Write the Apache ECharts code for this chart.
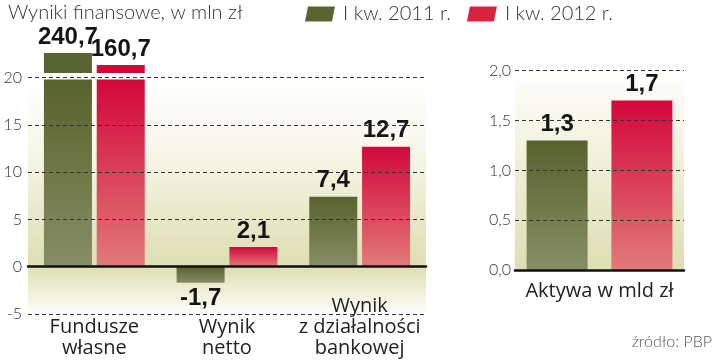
<!DOCTYPE html>
<html>
<head>
<meta charset="utf-8">
<script src="https://cdn.jsdelivr.net/npm/echarts@6/dist/echarts.min.js"></script>
<style>
html,body{margin:0;padding:0;background:#fff;}
#chart{width:720px;height:360px;}
</style>
</head>
<body>
<div id="chart"></div>
<script>
// ---- data ----
const categories = ['Fundusze\nwłasne', 'Wynik\nnetto', 'Wynik\nz działalności\nbankowej'];
const seriesNames = ['I kw. 2011 r.', 'I kw. 2012 r.'];
const q1_2011 = [240.7, -1.7, 7.4];
const q1_2012 = [160.7, 2.1, 12.7];
const assetsCategory = ['Aktywa w mld zł'];
const assets2011 = [1.3];
const assets2012 = [1.7];
const leftAxisMin = -5, leftAxisMax = 20, leftInterval = 5;
const rightAxisMin = 0, rightAxisMax = 2, rightInterval = 0.5;
// broken-axis ranges for off-scale bars
const lowerScaleMax = 19.8;
const upperScaleMin = 107.4, upperScaleMax = 240.7;

// ---- styling ----
const G = echarts.graphic;
const greenGrad = new G.LinearGradient(0,0,0,1,[{offset:0,color:'#58622b'},{offset:1,color:'#878e66'}]);
const redGrad = new G.LinearGradient(0,0,0,1,[{offset:0,color:'#d3073b'},{offset:1,color:'#e27a78'}]);
const greenTop = '#5a6430', redTop = '#d20a3c';
const bgLeft = new G.LinearGradient(0,0,0,1,[
  {offset:0,color:'#ffffff'},{offset:0.3,color:'#f7f7ea'},{offset:0.8,color:'#dddeb1'},
  {offset:0.84,color:'#e4e5c0'},{offset:1,color:'#fefefb'}]);
const bgRight = new G.LinearGradient(0,0,0,1,[
  {offset:0,color:'#ffffff'},{offset:0.15,color:'#fafaf1'},{offset:1,color:'#dddeb1'}]);
const dash = {color:'#333', width:1, type:[4,3]};
const numFmt = v => String(v).replace('.', ',');
const valLabel = {
  fontFamily:'Liberation Sans', fontWeight:'bold', fontSize:24, color:'#151515',
  formatter: p => numFmt(p.value), distance: 4
};

// geometry of the left panel (value scale shared by grids 0 and 2)
const zeroY = 266.7, pxPerUnit = 9.45, leftBottom = 314;
const gridCtop = zeroY - leftAxisMax*pxPerUnit;
const gridAtop = zeroY - lowerScaleMax*pxPerUnit;

function lowerData(arr){
  return arr.map(v => ({value:v, label:{show: v <= lowerScaleMax, position: v < 0 ? 'bottom' : 'top'}}));
}
function upperData(arr){
  return arr.map(v => v > upperScaleMax || v <= upperScaleMin ? '-' : v);
}

const chart = echarts.init(document.getElementById('chart'), null, {renderer:'canvas'});
chart.setOption({
  animation:false,
  title:[
    {text:'Wyniki finansowe, w mln zł', left:8, top:3, padding:0,
     textStyle:{fontFamily:'Lato', fontSize:20, fontWeight:300, color:'#333'}},
    {text:'źródło: PBP', right:8, top:334, padding:0,
     textStyle:{fontFamily:'Lato', fontSize:16, fontWeight:300, color:'#555'}}
  ],
  legend:{
    left:305, top:4, padding:0, itemWidth:30, itemHeight:15, itemGap:16,
    textStyle:{fontFamily:'Lato', fontSize:20, fontWeight:300, color:'#333', padding:[0,0,0,3]},
    data:[
      {name:seriesNames[0], icon:'path://M3,0 L30,0 L27,15 L0,15 Z', itemStyle:{color:greenTop}},
      {name:seriesNames[1], icon:'path://M3,0 L30,0 L27,15 L0,15 Z', itemStyle:{color:'#d8223f'}}
    ]
  },
  grid:[
    {left:28, width:398, top:gridAtop, height:leftBottom-gridAtop},          // 0: lower bars
    {left:28, width:398, top:53, height:20},                                // 1: broken tops
    {left:28, width:398, top:gridCtop, height:leftBottom-gridCtop, show:true,
     backgroundColor:bgLeft, borderWidth:0},                                // 2: left grid lines
    {left:515, width:169, top:70.7, height:199.3, show:true,
     backgroundColor:bgRight, borderWidth:0}                                // 3: right panel
  ],
  xAxis:[
    {gridIndex:0, type:'category', data:categories, position:'bottom',
     axisLine:{show:false, onZero:false}, axisTick:{show:false},
     axisLabel:{margin:45, verticalAlign:'bottom', fontFamily:'Open Sans', fontSize:20,
       lineHeight:21, color:'#222', interval:0}},
    {gridIndex:1, type:'category', data:categories, show:false},
    {gridIndex:2, type:'category', data:categories, z:3,
     axisLine:{onZero:true, lineStyle:{color:'#111', width:2.5}},
     axisTick:{show:false}, axisLabel:{show:false}},
    {gridIndex:3, type:'category', data:assetsCategory, z:3,
     axisLine:{lineStyle:{color:'#111', width:2.5}}, axisTick:{show:false},
     axisLabel:{margin:11, fontFamily:'Open Sans', fontSize:20, color:'#222'}}
  ],
  yAxis:[
    {gridIndex:0, type:'value', min:leftAxisMin, max:lowerScaleMax, show:false, splitLine:{show:false}},
    {gridIndex:1, type:'value', min:upperScaleMin, max:upperScaleMax, show:false, splitLine:{show:false}},
    {gridIndex:2, type:'value', min:leftAxisMin, max:leftAxisMax, interval:leftInterval, z:3,
     axisLine:{show:false}, axisTick:{show:false},
     axisLabel:{margin:6, fontFamily:'Lato', fontSize:16, fontWeight:300, color:'#333'},
     splitLine:{show:true, lineStyle:dash}},
    {gridIndex:3, type:'value', min:rightAxisMin, max:rightAxisMax, interval:rightInterval, z:3,
     axisLine:{show:false}, axisTick:{show:false},
     axisLabel:{margin:4, fontFamily:'Lato', fontSize:16, fontWeight:300, color:'#333',
       formatter:v => v.toFixed(1).replace('.', ',')},
     splitLine:{show:true, lineStyle:dash}}
  ],
  series:[
    {name:seriesNames[0], type:'bar', xAxisIndex:0, yAxisIndex:0, clip:true, barWidth:48, barGap:'10%',
     data:lowerData(q1_2011), itemStyle:{color:greenGrad}, label:Object.assign({show:true}, valLabel)},
    {name:seriesNames[1], type:'bar', xAxisIndex:0, yAxisIndex:0, clip:true, barWidth:48, barGap:'10%',
     data:lowerData(q1_2012), itemStyle:{color:redGrad}, label:Object.assign({show:true}, valLabel)},
    {name:seriesNames[0], type:'bar', xAxisIndex:1, yAxisIndex:1, clip:true, barWidth:48, barGap:'10%',
     data:upperData(q1_2011), itemStyle:{color:greenTop}, label:Object.assign({show:true, position:'top'}, valLabel)},
    {name:seriesNames[1], type:'bar', xAxisIndex:1, yAxisIndex:1, clip:true, barWidth:48, barGap:'10%',
     data:upperData(q1_2012), itemStyle:{color:redTop}, label:Object.assign({show:true, position:'top'}, valLabel)},
    {name:seriesNames[0], type:'bar', xAxisIndex:3, yAxisIndex:3, barWidth:61, barGap:'39%',
     data:assets2011, itemStyle:{color:greenGrad}, label:Object.assign({show:true, position:'top'}, valLabel)},
    {name:seriesNames[1], type:'bar', xAxisIndex:3, yAxisIndex:3, barWidth:61, barGap:'39%',
     data:assets2012, itemStyle:{color:redGrad}, label:Object.assign({show:true, position:'top'}, valLabel)}
  ]
});
</script>
</body>
</html>
